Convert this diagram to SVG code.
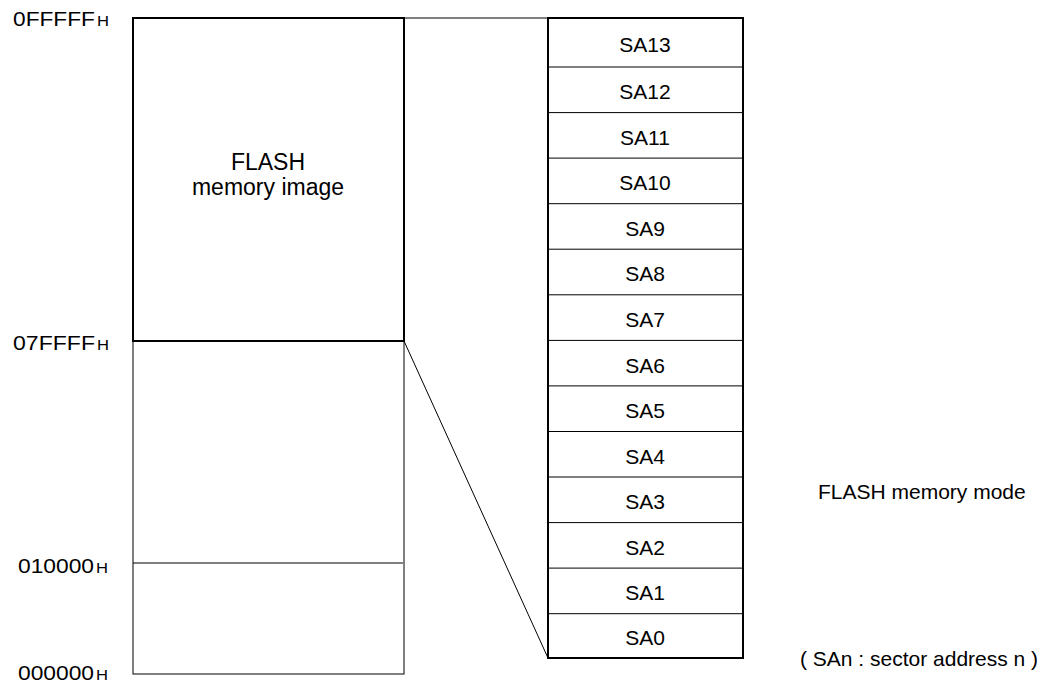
<svg xmlns="http://www.w3.org/2000/svg" width="1051" height="684" viewBox="0 0 1051 684">
<style>
text{font-family:"Liberation Sans",Arial,sans-serif;fill:#000}
.addr{font-size:21px}
.h{font-size:14px}
.sa{font-size:21px;text-anchor:middle}
.lbl{font-size:23px;text-anchor:middle}
.note{font-size:21px}
.thick{fill:none;stroke:#000;stroke-width:2}
.thin{fill:none;stroke:#000;stroke-width:1}
</style>
<rect width="1051" height="684" fill="#fff"/>
<g id="addresses">
<text class="addr" x="13" y="26" textLength="82" lengthAdjust="spacingAndGlyphs">0FFFFF</text>
<text class="h" x="97" y="26" textLength="12" lengthAdjust="spacingAndGlyphs">H</text>
<text class="addr" x="13" y="350" textLength="82" lengthAdjust="spacingAndGlyphs">07FFFF</text>
<text class="h" x="97" y="350" textLength="12" lengthAdjust="spacingAndGlyphs">H</text>
<text class="addr" x="18" y="573" textLength="76" lengthAdjust="spacingAndGlyphs">010000</text>
<text class="h" x="96" y="573" textLength="12" lengthAdjust="spacingAndGlyphs">H</text>
<text class="addr" x="18" y="680" textLength="76" lengthAdjust="spacingAndGlyphs">000000</text>
<text class="h" x="96" y="680" textLength="12" lengthAdjust="spacingAndGlyphs">H</text>
</g>
<g id="memory-lower">
<rect class="thin" x="133" y="341" width="271" height="333"/>
<line class="thin" x1="133" y1="563" x2="403" y2="563"/>
</g>
<g id="flash-image">
<rect class="thick" x="133" y="18" width="271" height="323"/>
<text class="lbl" x="268" y="170">FLASH</text>
<text class="lbl" x="268" y="195">memory image</text>
</g>
<g id="connectors">
<line class="thin" x1="404" y1="18" x2="548" y2="18"/>
<line class="thin" x1="404" y1="341" x2="548" y2="658"/>
</g>
<g id="sectors">
<rect class="thick" x="548" y="18" width="195" height="640"/>
<g class="thin">
<line x1="548" y1="67" x2="743" y2="67"/>
<line x1="548" y1="112.6" x2="743" y2="112.6"/>
<line x1="548" y1="158.1" x2="743" y2="158.1"/>
<line x1="548" y1="203.7" x2="743" y2="203.7"/>
<line x1="548" y1="249.2" x2="743" y2="249.2"/>
<line x1="548" y1="294.8" x2="743" y2="294.8"/>
<line x1="548" y1="340.4" x2="743" y2="340.4"/>
<line x1="548" y1="385.9" x2="743" y2="385.9"/>
<line x1="548" y1="431.5" x2="743" y2="431.5"/>
<line x1="548" y1="477" x2="743" y2="477"/>
<line x1="548" y1="522.6" x2="743" y2="522.6"/>
<line x1="548" y1="568.1" x2="743" y2="568.1"/>
<line x1="548" y1="613.7" x2="743" y2="613.7"/>
</g>
<text class="sa" x="645" y="52">SA13</text>
<text class="sa" x="645" y="99">SA12</text>
<text class="sa" x="645" y="145">SA11</text>
<text class="sa" x="645" y="190">SA10</text>
<text class="sa" x="645" y="236">SA9</text>
<text class="sa" x="645" y="281">SA8</text>
<text class="sa" x="645" y="327">SA7</text>
<text class="sa" x="645" y="373">SA6</text>
<text class="sa" x="645" y="418">SA5</text>
<text class="sa" x="645" y="464">SA4</text>
<text class="sa" x="645" y="509">SA3</text>
<text class="sa" x="645" y="555">SA2</text>
<text class="sa" x="645" y="600">SA1</text>
<text class="sa" x="645" y="645">SA0</text>
</g>
<g id="notes">
<text class="note" x="818" y="499">FLASH memory mode</text>
<text class="note" x="800" y="666">( SAn : sector address n )</text>
</g>
</svg>
